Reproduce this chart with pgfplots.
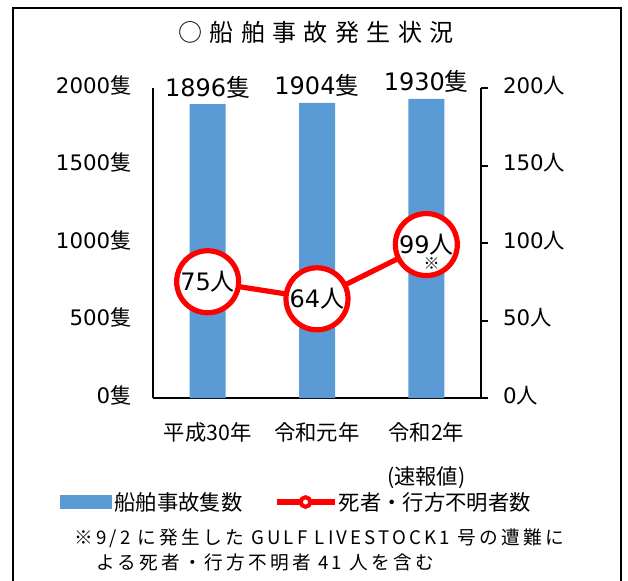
\documentclass[border=0pt]{standalone}
\usepackage{fontspec}
\setmainfont{DejaVu Sans}
\newfontfamily\cjk{Noto Sans CJK JP}
\newfontfamily\cjktitle[LetterSpace=31]{Noto Sans CJK JP}
\newfontfamily\cjknote[LetterSpace=17]{Noto Sans CJK JP}
\usepackage{pgfplots}
\pgfplotsset{compat=1.18}
\definecolor{barblue}{HTML}{5B9BD5}
\definecolor{lred}{HTML}{FF0000}
\begin{document}
\begin{tikzpicture}
\path[use as bounding box] (0pt,0pt) rectangle (471pt,-435.75pt);
\draw[line width=1.5pt] (9.4pt,-436pt) -- (9.4pt,-6pt) -- (466pt,-6pt) -- (466pt,-436pt);
\node at (237pt,-24pt) {\cjktitle\fontsize{18}{20}\selectfont ○船舶事故発生状況};
% bars
\begin{axis}[
  at={(114.75pt,-298.5pt)}, anchor=south west, scale only axis,
  width=246pt, height=232.5pt,
  xmin=-0.5, xmax=2.5, ymin=0, ymax=2000,
  axis x line*=bottom, axis y line*=left,
  axis line style={line width=1.5pt, -},
  major tick length=0pt,
  xtick={0,1,2},
  xticklabels={{平成30年},{令和元年},{令和2年\\[14pt](速報値)}},
  xticklabel style={font=\cjk\fontsize{16}{19}\selectfont, align=center, anchor=north, yshift=-15pt},
  ytick={0,500,1000,1500,2000},
  yticklabels={{0{\cjk 隻}},{500{\cjk 隻}},{1000{\cjk 隻}},{1500{\cjk 隻}},{2000{\cjk 隻}}},
  yticklabel style={font=\fontsize{16}{19}\selectfont, xshift=-12.5pt, yshift=2pt},
  ybar, bar width=27pt,
  /pgf/number format/1000 sep={},
  /pgf/number format/assume math mode=true,
  nodes near coords={\pgfmathprintnumber{\pgfplotspointmeta}{\cjk 隻}},
  every node near coord/.append style={font=\fontsize{18}{20}\selectfont, yshift=1pt},
  clip=false,
  legend style={at={(-0.2835,-0.3355)}, anchor=west, draw=none, fill=none, inner sep=0pt,
    nodes={inner sep=1.6pt}, font=\cjk\fontsize{16}{19}\selectfont},
]
\addplot[fill=barblue, draw=none,
  legend image code/.code={\fill[barblue] (0pt,-5.2pt) rectangle (39pt,5.2pt);}]
  coordinates {(0,1896) (1,1904) (2,1930)};
\addlegendentry{船舶事故隻数}
\end{axis}
% line
\begin{axis}[
  at={(114.75pt,-298.5pt)}, anchor=south west, scale only axis,
  width=246pt, height=232.5pt,
  xmin=-0.5, xmax=2.5, ymin=0, ymax=200,
  axis x line=none, axis y line*=right,
  axis line style={line width=1.5pt, -},
  tick align=outside, major tick length=5pt,
  ytick style={line width=1.5pt, black},
  ytick={0,50,100,150,200},
  yticklabels={{0{\cjk 人}},{50{\cjk 人}},{100{\cjk 人}},{150{\cjk 人}},{200{\cjk 人}}},
  yticklabel style={font=\fontsize{16}{19}\selectfont, xshift=8pt, yshift=2pt},
  /pgf/number format/assume math mode=true,
  clip=false,
  legend style={at={(0.3689,-0.3355)}, anchor=west, draw=none, fill=none, inner sep=0pt,
    nodes={inner sep=1pt}, font=\cjk\fontsize{16}{19}\selectfont},
]
\addplot[lred, line width=3.9pt, mark=*, mark size=23.25pt,
  mark options={fill=white, draw=lred, line width=3.9pt},
  nodes near coords={\pgfmathprintnumber{\pgfplotspointmeta}{\cjk 人}},
  every node near coord/.append style={anchor=center, black, font=\fontsize{18}{20}\selectfont},
  legend image code/.code={\draw[lred, line width=3.9pt] (0pt,0pt) -- (43.5pt,0pt);
     \draw[lred, line width=3pt, fill=white] (21.5pt,0pt) circle (3.6pt);}]
 coordinates {(0,75) (1,64) (2,99)};
\addlegendentry{死者・行方不明者数}
\addplot[draw=none, mark=none, forget plot,
  nodes near coords={\cjk ※},
  every node near coord/.append style={anchor=center, black, font=\fontsize{12}{14}\selectfont, yshift=-14.5pt, xshift=4pt}]
 coordinates {(2,99)};
\end{axis}
\node[anchor=west, inner sep=0pt] at (55.5pt,-403.5pt) {\cjknote\fontsize{14}{16}\selectfont ※9/2 に発生した GULF LIVESTOCK1 号の遭難に};
\node[anchor=west, inner sep=0pt] at (72pt,-421.5pt) {\cjknote\fontsize{14}{16}\selectfont よる死者・行方不明者 41 人を含む};
\end{tikzpicture}
\end{document}
